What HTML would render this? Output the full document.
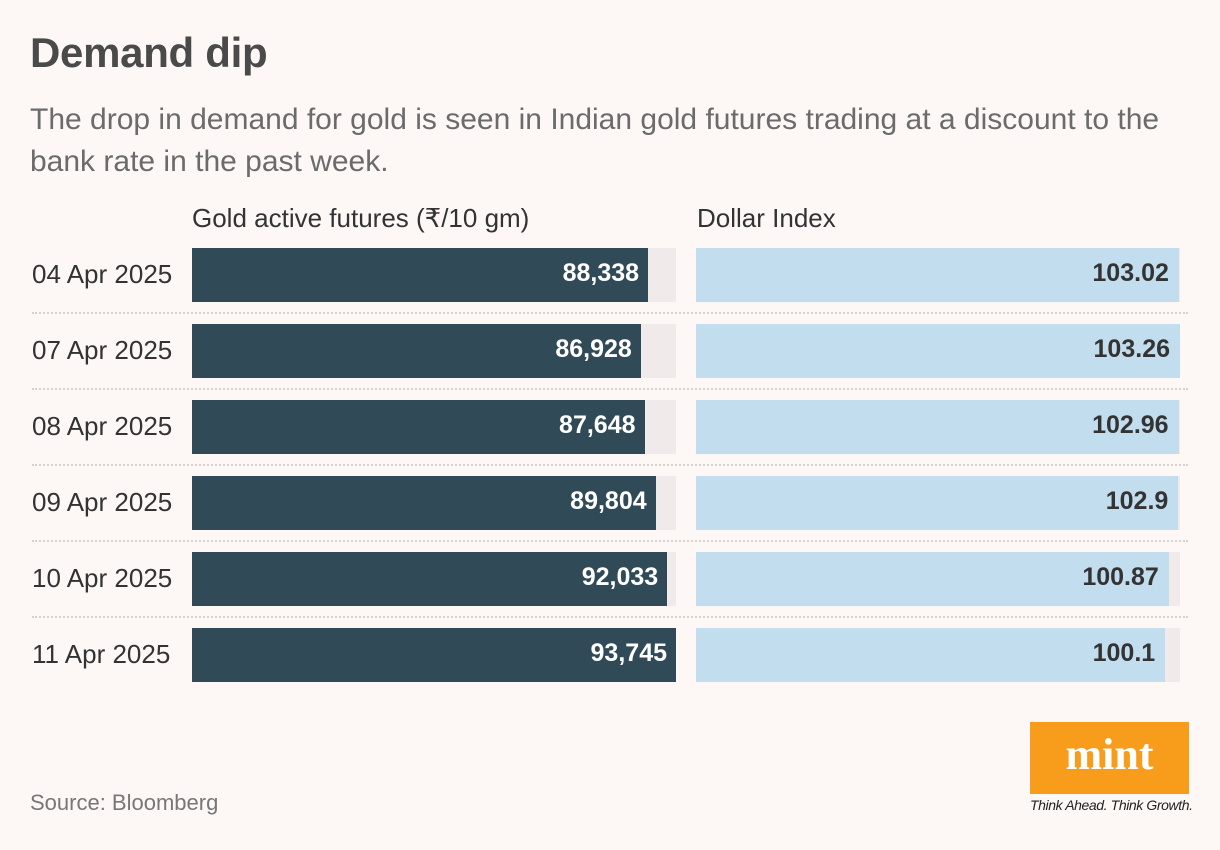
<!DOCTYPE html>
<html><head><meta charset="utf-8"><style>
body{margin:0;background:#fdf7f6;font-family:"Liberation Sans",sans-serif;}
#root{position:relative;width:1220px;height:850px;overflow:hidden;}
.t{position:absolute;white-space:nowrap;}
</style></head><body>
<div id="root">
<div class="t" style="left:30px;top:29px;font-size:42px;font-weight:bold;color:#4a4a4a;letter-spacing:-0.3px">Demand dip</div>
<div class="t" style="left:30px;top:99px;font-size:30px;color:#6b6b6b;line-height:42px;white-space:normal;width:1160px">The drop in demand for gold is seen in Indian gold futures trading at a discount to the bank rate in the past week.</div>
<div class="t" style="left:192px;top:203px;font-size:26px;color:#333">Gold active futures (₹/10 gm)</div>
<div class="t" style="left:697px;top:203px;font-size:26px;color:#333">Dollar Index</div>
<div id="rows"></div>
<div class="t" style="left:30px;top:790px;font-size:22px;color:#777">Source: Bloomberg</div>
<div style="position:absolute;left:1030px;top:722px;width:159px;height:72px;background:#f89c1c;color:#fff;font-family:'Liberation Serif',serif;font-weight:bold;font-size:44px;text-align:center;line-height:66px">mint</div>
<div class="t" style="left:1030px;top:797px;font-size:14px;font-style:italic;color:#222;letter-spacing:-0.4px">Think Ahead. Think Growth.</div>
</div>
<script>
const dates=["04 Apr 2025","07 Apr 2025","08 Apr 2025","09 Apr 2025","10 Apr 2025","11 Apr 2025"];
const gold=[88338,86928,87648,89804,92033,93745];
const dollar=[103.02,103.26,102.96,102.9,100.87,100.1];
const goldLabels=["88,338","86,928","87,648","89,804","92,033","93,745"];
const dollarLabels=["103.02","103.26","102.96","102.9","100.87","100.1"];
const W=484,gx=192,dx=696,top0=248,step=76,h=54;
const gMax=Math.max(...gold),dMax=Math.max(...dollar);
const gs=v=>v/gMax*W, ds=v=>v/dMax*W;
const rows=document.getElementById('rows');
function div(css,txt){const d=document.createElement('div');d.style.cssText='position:absolute;'+css;if(txt!=null)d.textContent=txt;rows.appendChild(d);return d;}
dates.forEach((dt,i)=>{
 const y=top0+i*step;
 const l=div(`left:32px;top:${y+11}px;font-size:26px;color:#333;white-space:nowrap`,dt);
 
 
 const t1=div(`left:${gx}px;top:${y}px;width:${W}px;height:${h}px;background:#f1eaea`);
 
 
 const b1=div(`left:${gx}px;top:${y}px;width:${gs(gold[i])}px;height:${h}px;background:#304a57`);
 
 
 const v1=div(`left:${gx}px;top:${y+11}px;width:${gs(gold[i])-9}px;text-align:right;font-size:25px;font-weight:bold;color:#fff`,goldLabels[i]);
 
 
 const t2=div(`left:${dx}px;top:${y}px;width:${W}px;height:${h}px;background:#f1eaea`);
 
 
 const b2=div(`left:${dx}px;top:${y}px;width:${ds(dollar[i])}px;height:${h}px;background:#c2ddee`);
 
 
 const v2=div(`left:${dx}px;top:${y+11}px;width:${ds(dollar[i])-10}px;text-align:right;font-size:25px;font-weight:bold;color:#333`,dollarLabels[i]);
 
 
 if(i<dates.length-1){
  const s=div(`left:32px;top:${y+64}px;width:1156px;height:0;border-top:2px dotted #d6d0d0`);
  
  
 }
});
</script>
</body></html>
